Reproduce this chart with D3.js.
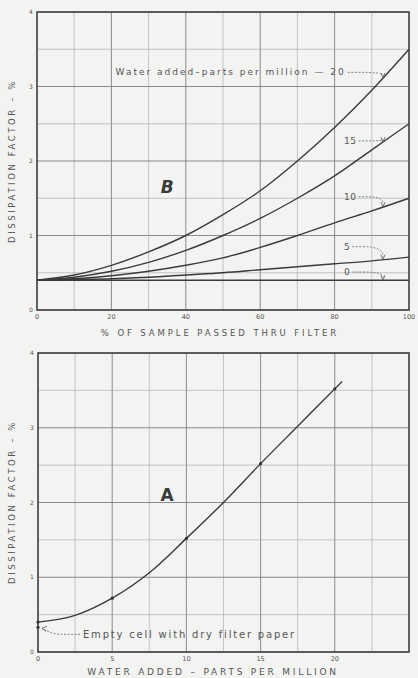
<!DOCTYPE html>
<html>
<head>
<meta charset="utf-8">
<script src="https://cdn.jsdelivr.net/npm/d3@7"></script>
<style>
  body { margin: 0; background: #f3f3f1; }
  svg { display: block; font-family: "DejaVu Sans", sans-serif; }
</style>
</head>
<body>
<svg id="chart" width="418" height="678"></svg>
<script>
// ---- data (chart B) ----
const passedPct = [0, 10, 20, 30, 40, 50, 60, 70, 80, 90, 100];
const water0 = [0.4, 0.4, 0.4, 0.4, 0.4, 0.4, 0.4, 0.4, 0.4, 0.4, 0.4];
const water5 = [0.4, 0.41, 0.42, 0.44, 0.47, 0.5, 0.54, 0.58, 0.62, 0.66, 0.71];
const water10 = [0.4, 0.42, 0.46, 0.52, 0.6, 0.7, 0.84, 1.0, 1.17, 1.33, 1.5];
const water15 = [0.4, 0.44, 0.52, 0.64, 0.8, 1.0, 1.23, 1.5, 1.8, 2.15, 2.5];
const water20 = [0.4, 0.47, 0.6, 0.78, 1.0, 1.28, 1.6, 2.0, 2.45, 2.95, 3.5];
const labelTexts = ["0", "5", "10", "15", "Water added\u2013parts per million \u2014 20"];
const labelVals = [0.51, 0.85, 1.52, 2.27, 3.19];

// ---- data (chart A) ----
const waterPpm = [0, 2.5, 5, 7.5, 10, 12.5, 15, 17.5, 20, 20.5];
const dissA = [0.4, 0.49, 0.72, 1.06, 1.52, 2.0, 2.52, 3.02, 3.52, 3.62];
const pointPpm = [0, 5, 10, 15, 20];
const pointDiss = [0.4, 0.72, 1.52, 2.52, 3.52];
const emptyCell = 0.33;

const yTicks = [0, 1, 2, 3, 4];
const xTicksB = [0, 20, 40, 60, 80, 100];
const xTicksA = [0, 5, 10, 15, 20];

const svg = d3.select("#chart");
const ink = "#3a3a3a";
const gridCol = "#a4a4a4";

function frame(g, x, y, xMinor, xMajor) {
  g.selectAll(".vg").data(xMinor).enter().append("line")
    .attr("x1", d => x(d)).attr("x2", d => x(d))
    .attr("y1", y(0)).attr("y2", y(4))
    .attr("stroke", d => xMajor.includes(d) ? "#808080" : gridCol)
    .attr("stroke-width", d => xMajor.includes(d) ? 0.9 : 0.6);
  g.selectAll(".hg").data(d3.range(0, 4.01, 0.5)).enter().append("line")
    .attr("x1", x.range()[0]).attr("x2", x.range()[1])
    .attr("y1", d => y(d)).attr("y2", d => y(d))
    .attr("stroke", d => d % 1 === 0 ? "#808080" : gridCol)
    .attr("stroke-width", d => d % 1 === 0 ? 0.9 : 0.6);
  g.append("rect")
    .attr("x", x.range()[0]).attr("y", y(4))
    .attr("width", x.range()[1] - x.range()[0])
    .attr("height", y(0) - y(4))
    .attr("fill", "none").attr("stroke", "#444").attr("stroke-width", 1.6);
  g.selectAll(".yt").data(yTicks).enter().append("text")
    .attr("x", x.range()[0] - 6).attr("y", d => y(d) + 2)
    .attr("text-anchor", "middle")
    .attr("font-size", 6).attr("fill", "#555")
    .text(d => d);
}

function yTitle(g, cy) {
  g.append("text")
    .attr("transform", `translate(15,${cy}) rotate(-90)`)
    .attr("text-anchor", "middle")
    .attr("font-size", 8.5).attr("letter-spacing", 2.6).attr("fill", "#555")
    .text("DISSIPATION FACTOR \u2013 %");
}

// ---------------- chart B ----------------
const xB = d3.scaleLinear().domain([0, 100]).range([37, 409]);
const yB = d3.scaleLinear().domain([0, 4]).range([310, 12]);
const gB = svg.append("g");
frame(gB, xB, yB, d3.range(0, 101, 10), [20, 40, 60, 80]);

gB.selectAll(".xt").data(xTicksB).enter().append("text")
  .attr("x", d => xB(d)).attr("y", 319)
  .attr("text-anchor", "middle").attr("font-size", 6.5).attr("fill", "#555")
  .text(d => d);
gB.append("text")
  .attr("x", 220).attr("y", 336)
  .attr("text-anchor", "middle").attr("font-size", 8.5).attr("letter-spacing", 2.9)
  .attr("fill", "#555").text("% OF SAMPLE PASSED THRU FILTER");
yTitle(gB, 161);

const seriesB = [water0, water5, water10, water15, water20];
const lineB = d3.line().x((d, i) => xB(passedPct[i])).y(d => yB(d)).curve(d3.curveMonotoneX);
gB.selectAll(".curve").data(seriesB).enter().append("path")
  .attr("d", d => lineB(d))
  .attr("fill", "none").attr("stroke", ink).attr("stroke-width", 1.4);

// labels with dashed leaders
const interp = arr => d3.scaleLinear().domain(passedPct).range(arr);
seriesB.forEach((arr, k) => {
  const isLong = k === 4;
  const tx = xB(isLong ? 83 : 82.5);
  const ty = yB(labelVals[k]);
  const t = gB.append("text")
    .attr("x", tx).attr("y", ty + 3)
    .attr("text-anchor", isLong ? "end" : "start")
    .attr("font-size", 9).attr("letter-spacing", isLong ? 2.0 : 0.6)
    .attr("fill", "#555").text(labelTexts[k]);
  const endX = isLong ? tx + 2 : tx + t.node().getComputedTextLength() + 2;
  const ax = xB(93), ay = yB(interp(arr)(93));
  gB.append("path")
    .attr("d", `M${endX},${ty} L${endX + 10},${ty} Q${ax + 1},${ty} ${ax},${ay - 3}`)
    .attr("fill", "none").attr("stroke", "#666").attr("stroke-width", 0.8)
    .attr("stroke-dasharray", "2,1.5");
  gB.append("path")
    .attr("d", `M${ax - 2},${ay - 5} L${ax},${ay} L${ax + 2},${ay - 5}`)
    .attr("fill", "none").attr("stroke", "#555").attr("stroke-width", 0.8);
});

gB.append("text")
  .attr("x", xB(35)).attr("y", yB(1.65) + 6)
  .attr("text-anchor", "middle").attr("font-size", 17).attr("font-weight", "bold")
  .attr("font-style", "italic").attr("fill", "#3a3a3a").text("B");

// ---------------- chart A ----------------
const xA = d3.scaleLinear().domain([0, 25]).range([38, 409]);
const yA = d3.scaleLinear().domain([0, 4]).range([652, 353]);
const gA = svg.append("g");
frame(gA, xA, yA, d3.range(0, 25.01, 2.5), [5, 10, 15, 20]);

gA.selectAll(".xt").data(xTicksA).enter().append("text")
  .attr("x", d => xA(d)).attr("y", 661)
  .attr("text-anchor", "middle").attr("font-size", 6.5).attr("fill", "#555")
  .text(d => d);
gA.append("text")
  .attr("x", 213).attr("y", 675)
  .attr("text-anchor", "middle").attr("font-size", 9).attr("letter-spacing", 2.8)
  .attr("fill", "#555").text("WATER ADDED \u2013 PARTS PER MILLION");
yTitle(gA, 502);

const lineA = d3.line().x((d, i) => xA(waterPpm[i])).y(d => yA(d)).curve(d3.curveMonotoneX);
gA.append("path").attr("d", lineA(dissA))
  .attr("fill", "none").attr("stroke", ink).attr("stroke-width", 1.4);
gA.selectAll(".pt").data(pointPpm).enter().append("circle")
  .attr("cx", d => xA(d)).attr("cy", (d, i) => yA(pointDiss[i]))
  .attr("r", 1.6).attr("fill", "#333");
gA.append("circle").attr("cx", xA(0)).attr("cy", yA(emptyCell))
  .attr("r", 1.6).attr("fill", "#333");

gA.append("text")
  .attr("x", 83).attr("y", yA(emptyCell) + 11)
  .attr("font-size", 10).attr("letter-spacing", 1.8).attr("fill", "#555")
  .text("Empty cell with dry filter paper");
const ey = yA(emptyCell) + 7;
gA.append("path")
  .attr("d", `M80,${ey} L62,${ey} Q52,${ey} ${xA(0) + 4},${yA(emptyCell) + 1}`)
  .attr("fill", "none").attr("stroke", "#666").attr("stroke-width", 0.8)
  .attr("stroke-dasharray", "2,1.5");
gA.append("path")
  .attr("d", `M${xA(0) + 9},${yA(emptyCell) - 1} L${xA(0) + 4},${yA(emptyCell) + 1} L${xA(0) + 8},${yA(emptyCell) + 4}`)
  .attr("fill", "none").attr("stroke", "#555").attr("stroke-width", 0.8);

gA.append("text")
  .attr("x", xA(8.7)).attr("y", yA(2.0) - 2)
  .attr("text-anchor", "middle").attr("font-size", 17).attr("font-weight", "bold")
  .attr("fill", "#3a3a3a").text("A");
</script>
</body>
</html>
